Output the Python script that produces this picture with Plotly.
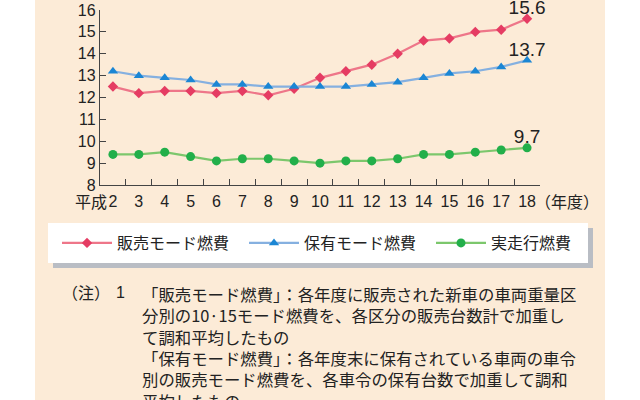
import plotly.graph_objects as go

# 年度 (平成)
years = [2, 3, 4, 5, 6, 7, 8, 9, 10, 11, 12, 13, 14, 15, 16, 17, 18]
hanbai = [12.5, 12.2, 12.3, 12.3, 12.2, 12.3, 12.1, 12.4, 12.9, 13.2, 13.5, 14.0, 14.6, 14.7, 15.0, 15.1, 15.6]
hoyu = [13.2, 13.0, 12.9, 12.8, 12.6, 12.6, 12.5, 12.5, 12.5, 12.5, 12.6, 12.7, 12.9, 13.1, 13.2, 13.4, 13.7]
jissou = [9.4, 9.4, 9.5, 9.3, 9.1, 9.2, 9.2, 9.1, 9.0, 9.1, 9.1, 9.2, 9.4, 9.4, 9.5, 9.6, 9.7]
series_names = ['販売モード燃費', '保有モード燃費', '実走行燃費']
y_ticks = [8, 9, 10, 11, 12, 13, 14, 15, 16]

notes = [
    '「販売モード燃費」：各年度に販売された新車の車両重量区',
    '分別の10·15モード燃費を、各区分の販売台数計で加重し',
    'て調和平均したもの',
    '「保有モード燃費」：各年度末に保有されている車両の車令',
    '別の販売モード燃費を、各車令の保有台数で加重して調和',
    '平均したもの',
]

W, H = 640, 400
BEIGE = '#fcebd7'
TEXT = '#222222'
JP_FONT = 'Noto Sans CJK JP'
NUM_FONT = 'Liberation Sans, Arial, sans-serif'

styles = [
    dict(line='#ee7689', marker='#e53c63', symbol='diamond', size=8),
    dict(line='#85b0e0', marker='#1b86d4', symbol='triangle-up', size=9),
    dict(line='#7cc76c', marker='#22af4a', symbol='circle', size=9),
]

cats = [str(y) for y in years]

fig = go.Figure()
for name, vals, st in zip(series_names, [hanbai, hoyu, jissou], styles):
    fig.add_trace(go.Scatter(
        x=cats, y=vals, name=name, mode='lines+markers',
        line=dict(color=st['line'], width=2.2),
        marker=dict(color=st['marker'], symbol=st['symbol'], size=st['size']),
    ))

# end-value labels (last year of each series)
for vals in [hanbai, hoyu, jissou]:
    fig.add_trace(go.Scatter(
        x=[cats[-1]], y=[vals[-1]], mode='text', showlegend=False,
        text=[f'{vals[-1]:.1f}'], textposition='top center', cliponaxis=False,
        textfont=dict(family=NUM_FONT, size=19, color=TEXT), hoverinfo='skip',
    ))


def px_x(p):
    return p / W


def px_y(p):
    return 1 - p / H


# x axis extra labels
fig.add_annotation(
    x=0, y=px_y(201), xref='x', yref='paper',
    text='平成', showarrow=False, xanchor='right', yanchor='middle',
    xshift=-4, font=dict(family=JP_FONT, size=16, color=TEXT),
)
fig.add_annotation(
    x=px_x(533), y=px_y(201), xref='paper', yref='paper',
    text='（年度）', showarrow=False, xanchor='left', yanchor='middle',
    font=dict(family=JP_FONT, size=16, color=TEXT),
)

# notes
fig.add_annotation(
    x=px_x(60), y=px_y(292), xref='paper', yref='paper',
    text='（注）', showarrow=False, xanchor='left', yanchor='middle',
    font=dict(family=JP_FONT, size=16, color=TEXT),
)
fig.add_annotation(
    x=px_x(114), y=px_y(292), xref='paper', yref='paper',
    text='1', showarrow=False, xanchor='left', yanchor='middle',
    font=dict(family=NUM_FONT, size=16, color=TEXT),
)
fig.add_annotation(
    x=px_x(140), y=px_y(280), xref='paper', yref='paper',
    text='<br>'.join(notes), showarrow=False, align='left',
    xanchor='left', yanchor='top',
    font=dict(family=JP_FONT, size=16.4, color=TEXT),
)

shapes = [
    # beige panel
    dict(type='rect', xref='paper', yref='paper', x0=px_x(35), x1=px_x(605),
         y0=0, y1=1, fillcolor=BEIGE, line_width=0, layer='below'),
    # legend shadow + box
    dict(type='rect', xref='paper', yref='paper', x0=px_x(53), x1=px_x(593),
         y0=px_y(268), y1=px_y(228), fillcolor='#b9bdc4', line_width=0, layer='below'),
    dict(type='rect', xref='paper', yref='paper', x0=px_x(48), x1=px_x(588),
         y0=px_y(263), y1=px_y(223), fillcolor='white', line_width=0, layer='below'),
]

fig.update_layout(
    width=W, height=H,
    margin=dict(l=0, r=0, t=0, b=0, autoexpand=False),
    paper_bgcolor='white',
    plot_bgcolor='rgba(0,0,0,0)',
    shapes=shapes,
    showlegend=True,
    legend=dict(
        orientation='h', x=px_x(57), y=px_y(243), xanchor='left', yanchor='middle',
        bgcolor='rgba(0,0,0,0)', borderwidth=0,
        font=dict(family=JP_FONT, size=16, color=TEXT),
        entrywidth=122, entrywidthmode='pixels', itemwidth=50,
    ),
    xaxis=dict(
        domain=[px_x(100), px_x(540)], automargin=False,
        type='category', tickson='boundaries', tickangle=0,
        ticks='inside', ticklen=6, tickcolor='#444', tickwidth=1.2,
        showline=True, linecolor='#444', linewidth=1.4,
        showgrid=False, zeroline=False, ticklabelstandoff=2,
        tickfont=dict(family=NUM_FONT, size=16, color=TEXT),
        range=[-0.5, len(cats) - 0.5],
    ),
    yaxis=dict(
        domain=[px_y(185), px_y(10)], automargin=False,
        range=[8, 16], tickvals=y_ticks,
        ticks='inside', ticklen=6, tickcolor='#444', tickwidth=1.2,
        showline=True, linecolor='#444', linewidth=1.4,
        showgrid=False, zeroline=False,
        tickfont=dict(family=NUM_FONT, size=16, color=TEXT),
    ),
)

fig.write_html('out.html', config={'displayModeBar': False},
               post_script="document.body.style.margin = '0';")
